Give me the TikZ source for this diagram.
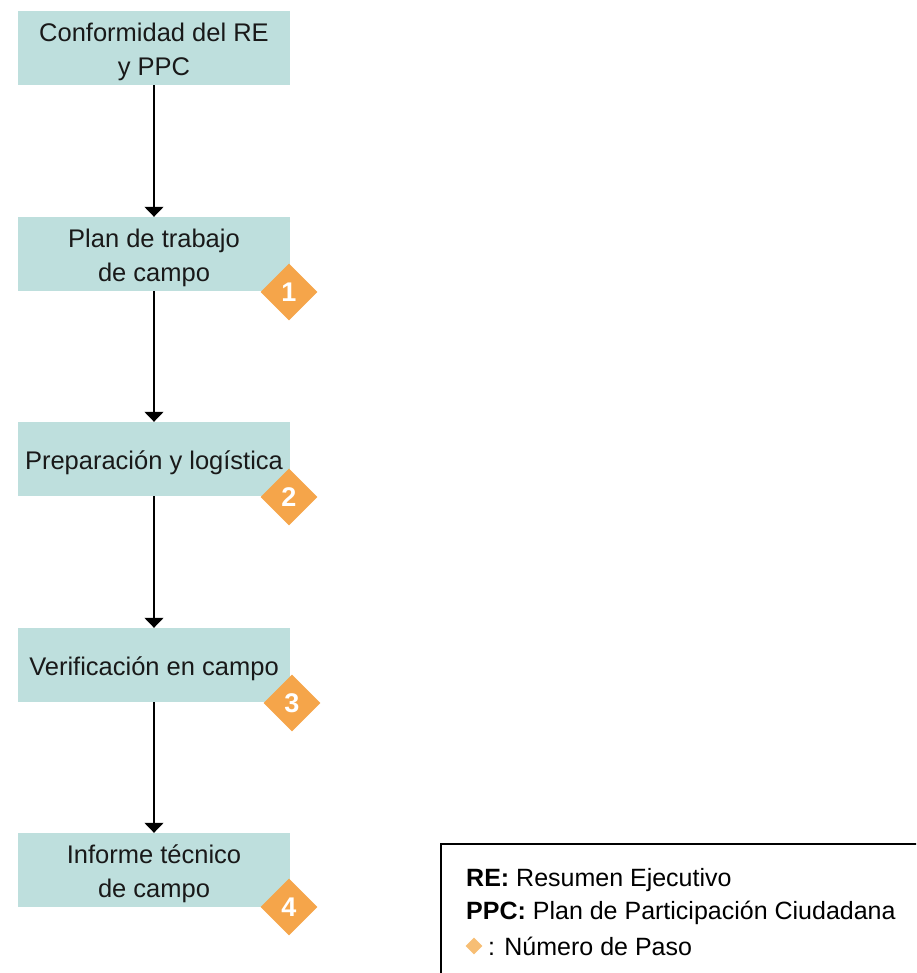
\documentclass[tikz,border=0pt]{standalone}
\usepackage{fontspec}
\setmainfont{Liberation Sans}
\usetikzlibrary{shapes.geometric,arrows.meta}
\definecolor{boxfill}{HTML}{BEDFDD}
\definecolor{stepor}{HTML}{F5A54A}
\definecolor{legor}{HTML}{F7BE74}
\tikzset{
  stepbox/.style={fill=boxfill, minimum width=272pt, minimum height=74pt, inner sep=0pt},
  steptext/.style={align=center, inner sep=0pt, yshift=-4pt, font=\fontsize{25.5}{34}\selectfont, text=black!90},
  stepnum/.style={diamond, fill=stepor, minimum width=57pt, minimum height=57pt, inner sep=0pt, text=white, font=\fontsize{27}{27}\selectfont\bfseries},
  flow/.style={-{Triangle[width=19pt,length=10pt]}, line width=1.4pt},
  legtext/.style={anchor=west, font=\fontsize{25}{25}\selectfont, inner sep=0pt}
}
\begin{document}
\begin{tikzpicture}[x=1pt,y=-1pt]
\useasboundingbox (0,0) rectangle (916,973);
\begin{scope}
\clip (0,0) rectangle (916,973);
\draw[line width=1.2pt] (441,844) rectangle (930,990);
\end{scope}
\node[stepbox] (b1) at (154,48) {};
\node[stepbox] (b2) at (154,254) {};
\node[stepbox] (b3) at (154,459) {};
\node[stepbox] (b4) at (154,665) {};
\node[stepbox] (b5) at (154,870) {};
\node[steptext] (t1) at (b1.center) {Conformidad del RE\\y PPC};
\node[steptext] (t2) at (b2.center) {Plan de trabajo\\de campo};
\node[steptext] (t3) at (b3.center) {Preparación y logística};
\node[steptext] (t4) at (b4.center) {Verificación en campo};
\node[steptext] (t5) at (b5.center) {Informe técnico\\de campo};
\node[stepnum] (d1) at (289,292) {1};
\node[stepnum] (d2) at (289,497) {2};
\node[stepnum] (d3) at (292,703) {3};
\node[stepnum] (d4) at (289,907) {4};
\draw[flow] (b1) -- (b2);
\draw[flow] (b2) -- (b3);
\draw[flow] (b3) -- (b4);
\draw[flow] (b4) -- (b5);
\node[legtext] (l1) at (466,880) {\textbf{RE:} Resumen Ejecutivo};
\node[legtext] (l2) at (466,913) {\textbf{PPC:} Plan de Participación Ciudadana};
\node[diamond, fill=legor, minimum width=17pt, minimum height=17pt, inner sep=0pt] (ld) at (474,946) {};
\node[legtext] (l3) at (488,946) {: Número de Paso};
\end{tikzpicture}
\end{document}
